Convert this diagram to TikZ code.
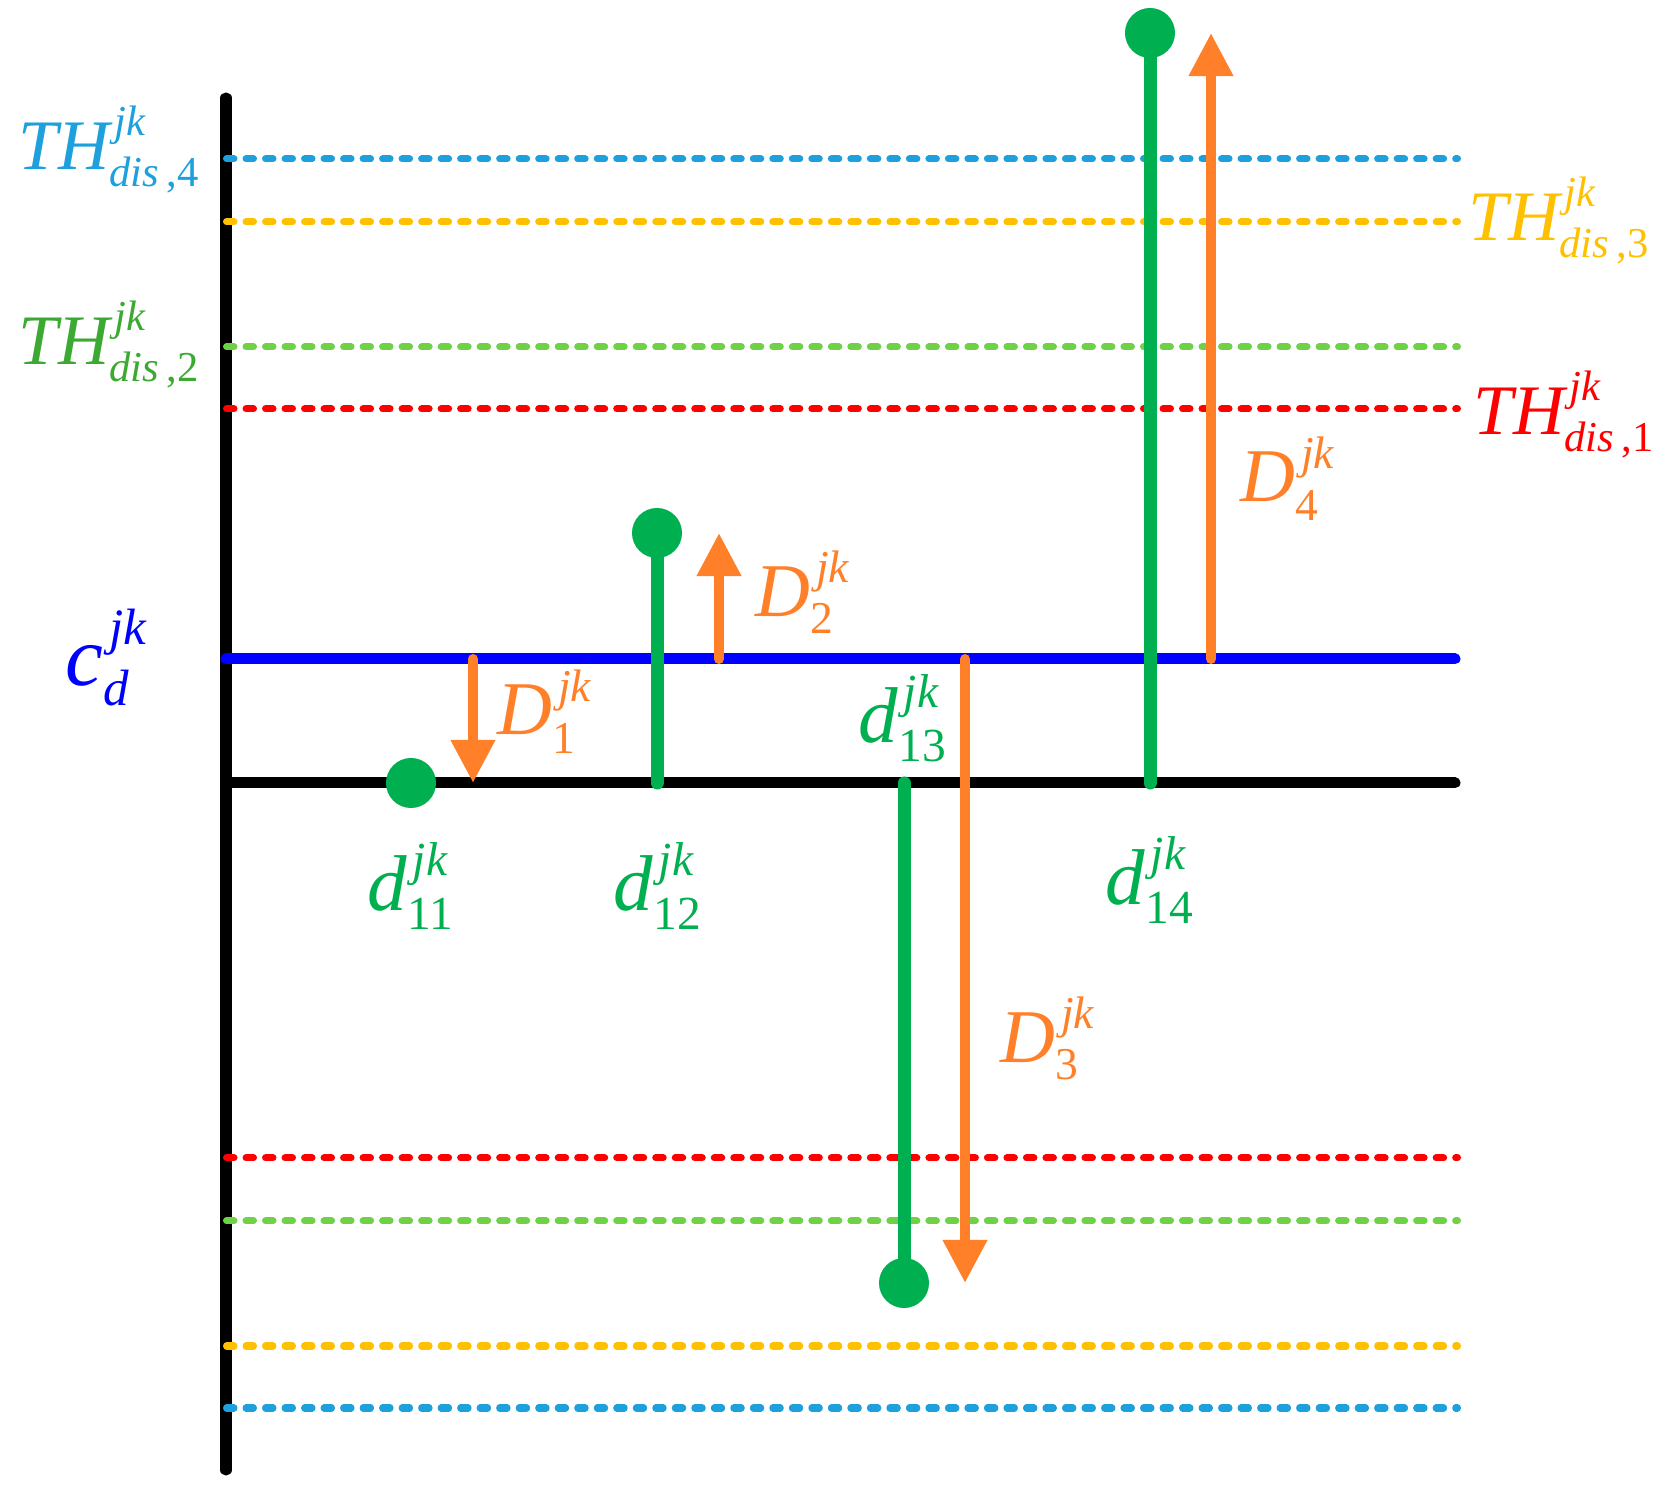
\documentclass[tikz,border=0pt]{standalone}
\usepackage{fontspec}
\usepackage{amsmath}
\setmainfont{Liberation Serif}
\usetikzlibrary{arrows.meta}
\renewcommand{\defaultscriptratio}{.6}

\definecolor{thblue}{RGB}{29,160,220}
\definecolor{thyellow}{RGB}{255,192,0}
\definecolor{thgreen}{RGB}{112,208,70}
\definecolor{thgreentxt}{RGB}{60,170,50}
\definecolor{thred}{RGB}{255,0,0}
\definecolor{cblue}{RGB}{0,0,255}
\definecolor{dotgreen}{RGB}{0,176,80}
\definecolor{distorange}{RGB}{255,128,40}

\newcommand{\lab}[3]{$\text{\itshape #1}^{\text{\kern.12em\itshape #2}}_{\text{#3}}$}

\tikzset{
  axisline/.style={line width=0.11cm, line cap=round},
  thline/.style={line width=0.07cm, line cap=round, dash pattern=on 0.075cm off 0.12cm},
  stem/.style={line width=0.13cm, line cap=round, dotgreen},
  dot/.style={circle, fill=dotgreen, inner sep=0, minimum size=0.5cm},
  dist/.style={line width=0.1cm, line cap=round, distorange, -{Triangle[width=0.42cm,length=0.43cm]}},
  lbl/.style={anchor=base west, inner sep=0},
}

\begin{document}
\begin{tikzpicture}[x=0.01cm,y=-0.01cm]
  \useasboundingbox (0,0) rectangle (1669,1489);

  % Ejes
  \coordinate (top) at (226,98);
  \coordinate (bot) at (226,1470);
  \draw[axisline] (top) -- (bot);
  \coordinate (z0) at (226,783);
  \coordinate (z1) at (1455,783);
  \draw[axisline] (z0) -- (z1);
  \coordinate (c0) at (226,659);
  \coordinate (c1) at (1455,659);
  \draw[axisline, cblue] (c0) -- (c1);

  % Umbrales
  \foreach \y/\c in {159/thblue, 222/thyellow, 347/thgreen, 409/thred, 1158/thred, 1221/thgreen, 1346/thyellow, 1408/thblue}
    \draw[thline, \c] (226.5,\y) -- (1457.5,\y);

  % Datos
  \node[dot] (d11) at (411,783) {};
  \node[dot] (d12) at (657,533) {};
  \node[dot] (d13) at (904,1283) {};
  \node[dot] (d14) at (1150,33) {};
  \coordinate (b12) at (657,783);
  \coordinate (b13) at (904,783);
  \coordinate (b14) at (1150,783);
  \foreach \n in {12,13,14}
    \draw[stem] (d\n.center) -- (b\n);

  % Distancias
  \coordinate (a1) at (473,659);
  \coordinate (e1) at (473,783);
  \coordinate (a2) at (719,659);
  \coordinate (e2) at (719,533);
  \coordinate (a3) at (965,659);
  \coordinate (e3) at (965,1283);
  \coordinate (a4) at (1211,659);
  \coordinate (e4) at (1211,33);
  \foreach \n in {1,2,3,4}
    \draw[dist] (a\n) -- (e\n);

  % Etiquetas
  \node[lbl, thblue, font=\fontsize{20.2}{24}\selectfont] (th4) at (18,170) {\lab{TH}{jk}{\itshape dis\,\upshape,4}};
  \node[lbl, thgreentxt, font=\fontsize{20.2}{24}\selectfont] (th2) at (18,365) {\lab{TH}{jk}{\itshape dis\,\upshape,2}};
  \node[lbl, thyellow, font=\fontsize{20.2}{24}\selectfont] (th3) at (1468,241) {\lab{TH}{jk}{\itshape dis\,\upshape,3}};
  \node[lbl, thred, font=\fontsize{20.2}{24}\selectfont] (th1) at (1473,435) {\lab{TH}{jk}{\itshape dis\,\upshape,1}};
  \node[lbl, cblue, font=\fontsize{24.2}{28}\selectfont] (cd) at (65,686) {\lab{c}{jk}{\itshape d}};

  \node[lbl, distorange, font=\fontsize{21.6}{26}\selectfont] (D1) at (497,735) {\lab{D}{jk}{1}};
  \node[lbl, distorange, font=\fontsize{21.6}{26}\selectfont] (D2) at (755,617) {\lab{D}{jk}{2}};
  \node[lbl, distorange, font=\fontsize{21.6}{26}\selectfont] (D3) at (1000,1063) {\lab{D}{jk}{3}};
  \node[lbl, distorange, font=\fontsize{21.6}{26}\selectfont] (D4) at (1240,502) {\lab{D}{jk}{4}};

  \node[lbl, dotgreen, font=\fontsize{22.5}{27}\selectfont] (l11) at (367,911) {\lab{d}{jk}{11}};
  \node[lbl, dotgreen, font=\fontsize{22.5}{27}\selectfont] (l12) at (613,911) {\lab{d}{jk}{12}};
  \node[lbl, dotgreen, font=\fontsize{22.5}{27}\selectfont] (l13) at (858,743) {\lab{d}{jk}{13}};
  \node[lbl, dotgreen, font=\fontsize{22.5}{27}\selectfont] (l14) at (1105,905) {\lab{d}{jk}{14}};
\end{tikzpicture}
\end{document}
